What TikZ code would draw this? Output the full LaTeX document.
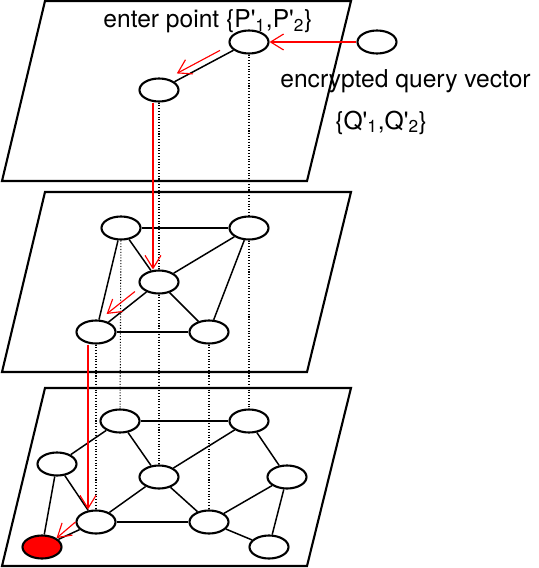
\documentclass[tikz,border=0pt]{standalone}
\usepackage{fontspec}
\setmainfont{TeX Gyre Heros}
\usetikzlibrary{shapes.geometric, arrows.meta, backgrounds, calc}

\begin{document}
\begin{tikzpicture}[
    x=0.02cm, y=-0.02cm,
    >={Straight Barb[length=2.6mm, width=3.2mm]},
    vtx/.style  ={ellipse, draw, line width=1.2pt, fill=white,
                  minimum width=0.78cm, minimum height=0.46cm, inner sep=0pt},
    hit/.style  ={vtx, fill=red},
    plane/.style={draw, line width=1.2pt, line join=miter},
    link/.style ={line width=0.85pt},
    drop/.style ={densely dotted, line width=0.6pt},
    search/.style={->, red, line width=0.65pt},
    lbl/.style  ={font=\fontsize{14}{16}\selectfont, inner sep=0pt}
  ]
  \useasboundingbox (0,0) rectangle (538,568);

  % ---- the three layers ----------------------------------------------
  \foreach \ytop/\ybot in {1/181, 192/372, 388/566}
    \draw[plane] (45,\ytop) -- (351,\ytop) -- (307,\ybot) -- (2,\ybot) -- cycle;

  % ---- top layer -----------------------------------------------------
  \node[vtx] (t1) at (249,42) {};
  \node[vtx] (t2) at (159,90) {};
  \node[vtx] (q)  at (377,42) {};

  % ---- middle layer --------------------------------------------------
  \node[vtx] (m1) at (121,228) {};
  \node[vtx] (m2) at (249,228) {};
  \node[vtx] (m3) at (159,282) {};
  \node[vtx] (m4) at (96,332)  {};
  \node[vtx] (m5) at (209,332) {};

  % ---- bottom layer --------------------------------------------------
  \node[vtx] (b1) at (120,421) {};
  \node[vtx] (b2) at (249,421) {};
  \node[vtx] (b3) at (57,464)  {};
  \node[vtx] (b4) at (159,477) {};
  \node[vtx] (b5) at (287,477) {};
  \node[vtx] (b6) at (96,522)  {};
  \node[vtx] (b7) at (209,522) {};
  \node[hit] (b8) at (42,547)  {};
  \node[vtx] (b9) at (269,547) {};

  \begin{pgfonlayer}{background}
    % graph edges
    \draw[link] (t1) -- (t2);
    \foreach \a/\b in {m1/m2, m1/m3, m1/m4, m2/m3, m2/m5, m3/m4, m3/m5, m4/m5}
      \draw[link] (\a) -- (\b);
    \foreach \a/\b in {b1/b2, b1/b3, b1/b4, b2/b4, b2/b5, b3/b6, b3/b8,
                       b4/b6, b4/b7, b5/b7, b5/b9, b6/b7, b6/b8, b7/b9}
      \draw[link] (\a) -- (\b);
    % same vertex on the layer below
    \draw[drop] (t1) -- (m2) -- (b2);
    \draw[drop] (t2) -- (m3) -- (b4);
    \draw[drop] (m1) -- (b1);
    \draw[drop] (m4) -- (b6);
    \draw[drop] (m5) -- (b7);
  \end{pgfonlayer}

  % ---- search path ---------------------------------------------------
  \draw[search] (q) -- (t1);
  \draw[search] ($(t1)!0.3!(t2)+(-2,-6)$) -- ($(t1)!0.78!(t2)+(-2,-6)$);
  \draw[search] ($(t2.south)+(-6,0)$) -- ($(m3.north)+(-6,0)$);
  \draw[search] ($(m3)!0.35!(m4)+(-2,-8)$) -- ($(m3)!0.8!(m4)+(-2,-8)$);
  \draw[search] ($(m4.south)+(-8,0)$) -- ($(b6.north)+(-8,0)$);
  \draw[search] (b6.west) -- (b8.north east);

  % ---- labels --------------------------------------------------------
  \node[lbl, anchor=base] (enter) at (208,28)
    {enter point \{P\textquotesingle\textsubscript{1},P\textquotesingle\textsubscript{2}\}};
  \node[lbl, anchor=base west] (query) at (280,87) {encrypted query vector};
  \node[lbl, anchor=base west] (qset) at (335,129)
    {\{Q\textquotesingle\textsubscript{1},Q\textquotesingle\textsubscript{2}\}};
\end{tikzpicture}
\end{document}
